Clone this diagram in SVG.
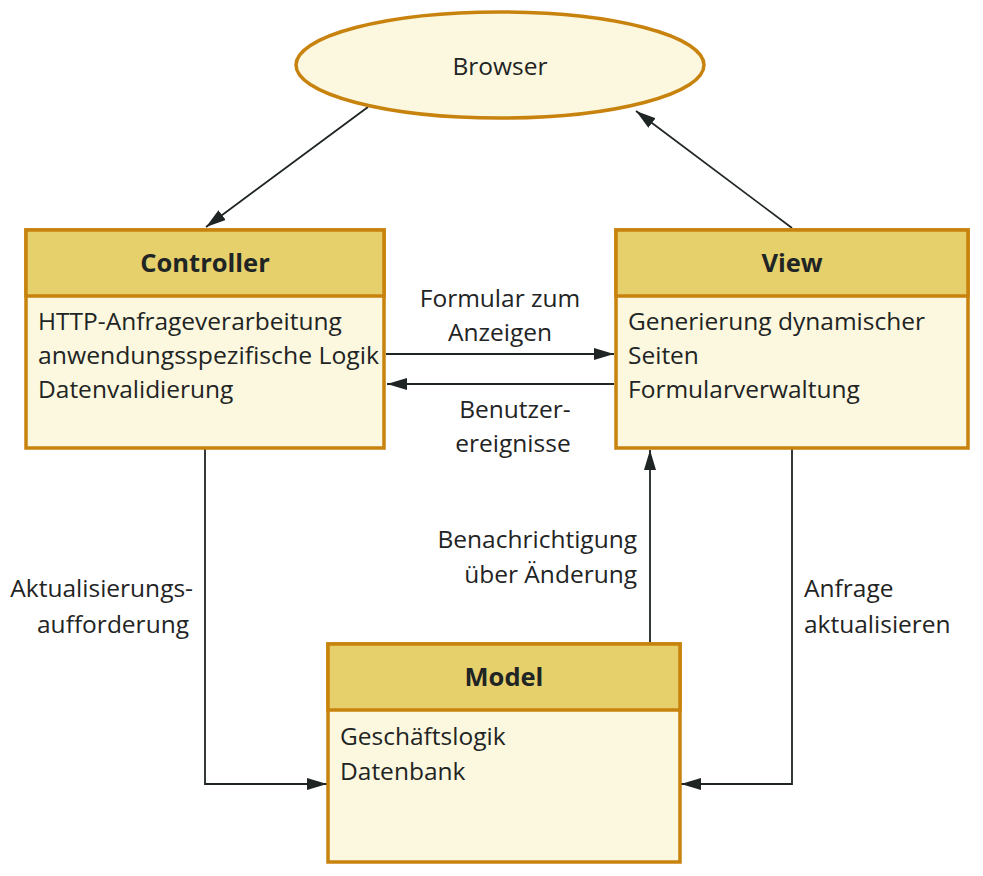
<svg xmlns="http://www.w3.org/2000/svg" width="983" height="876" viewBox="0 0 983 876">
<defs>
<style>
text{font-family:"Open Sans","Noto Sans",sans-serif;fill:#1f2424;font-size:24.5px;}
.h{font-weight:bold;text-anchor:middle;font-size:25.5px;}
.c{text-anchor:middle;}
.r{text-anchor:end;}
.box{stroke:#C8820E;stroke-width:3.5;}
.head{fill:#E5D06B;}
.body{fill:#FBF8DF;}
.ln{fill:none;stroke:#1f2424;stroke-width:1.8;}
</style>
<marker id="ah" markerUnits="userSpaceOnUse" markerWidth="22" markerHeight="14" refX="20" refY="6" orient="auto">
<path d="M0,0 L20,6 L0,12 z" fill="#1f2424"/>
</marker>
</defs>
<rect width="983" height="876" fill="#fff"/>
<g id="connectors">
<path class="ln" d="M368,107 L206,227" marker-end="url(#ah)"/>
<path class="ln" d="M792,228 L636,111" marker-end="url(#ah)"/>
<path class="ln" d="M386,354 L614,354" marker-end="url(#ah)"/>
<path class="ln" d="M614,384 L387,384" marker-end="url(#ah)"/>
<path class="ln" d="M650,643 L650,450" marker-end="url(#ah)"/>
<path class="ln" d="M205,448 V784 H327" marker-end="url(#ah)"/>
<path class="ln" d="M792,448 V784 H681" marker-end="url(#ah)"/>
<text class="c" x="500" y="307">Formular zum</text>
<text class="c" x="500" y="341">Anzeigen</text>
<text class="c" x="515" y="418">Benutzer-</text>
<text class="c" x="513" y="452">ereignisse</text>
<text class="r" x="637" y="548">Benachrichtigung</text>
<text class="r" x="637" y="583">über Änderung</text>
<text class="r" x="193" y="597">Aktualisierungs-</text>
<text class="r" x="189" y="633">aufforderung</text>
<text x="804" y="597">Anfrage</text>
<text x="804" y="633">aktualisieren</text>
</g>
<g id="browser">
<ellipse class="box body" cx="500" cy="65" rx="204" ry="53"/>
<text class="c" x="500" y="75">Browser</text>
</g>
<g id="controller">
<rect class="box body" x="26" y="230" width="358" height="218"/>
<rect class="box head" x="26" y="230" width="358" height="66"/>
<text class="h" x="205" y="272">Controller</text>
<text x="38" y="330">HTTP-Anfrageverarbeitung</text>
<text x="38" y="364" textLength="341" lengthAdjust="spacingAndGlyphs">anwendungsspezifische Logik</text>
<text x="38" y="398">Datenvalidierung</text>
</g>
<g id="view">
<rect class="box body" x="616" y="230" width="352" height="218"/>
<rect class="box head" x="616" y="230" width="352" height="66"/>
<text class="h" x="792" y="272">View</text>
<text x="628" y="330">Generierung dynamischer</text>
<text x="628" y="364">Seiten</text>
<text x="628" y="398">Formularverwaltung</text>
</g>
<g id="model">
<rect class="box body" x="328" y="644" width="352" height="218"/>
<rect class="box head" x="328" y="644" width="352" height="66"/>
<text class="h" x="504" y="686">Model</text>
<text x="340" y="745">Geschäftslogik</text>
<text x="340" y="780">Datenbank</text>
</g>
</svg>
